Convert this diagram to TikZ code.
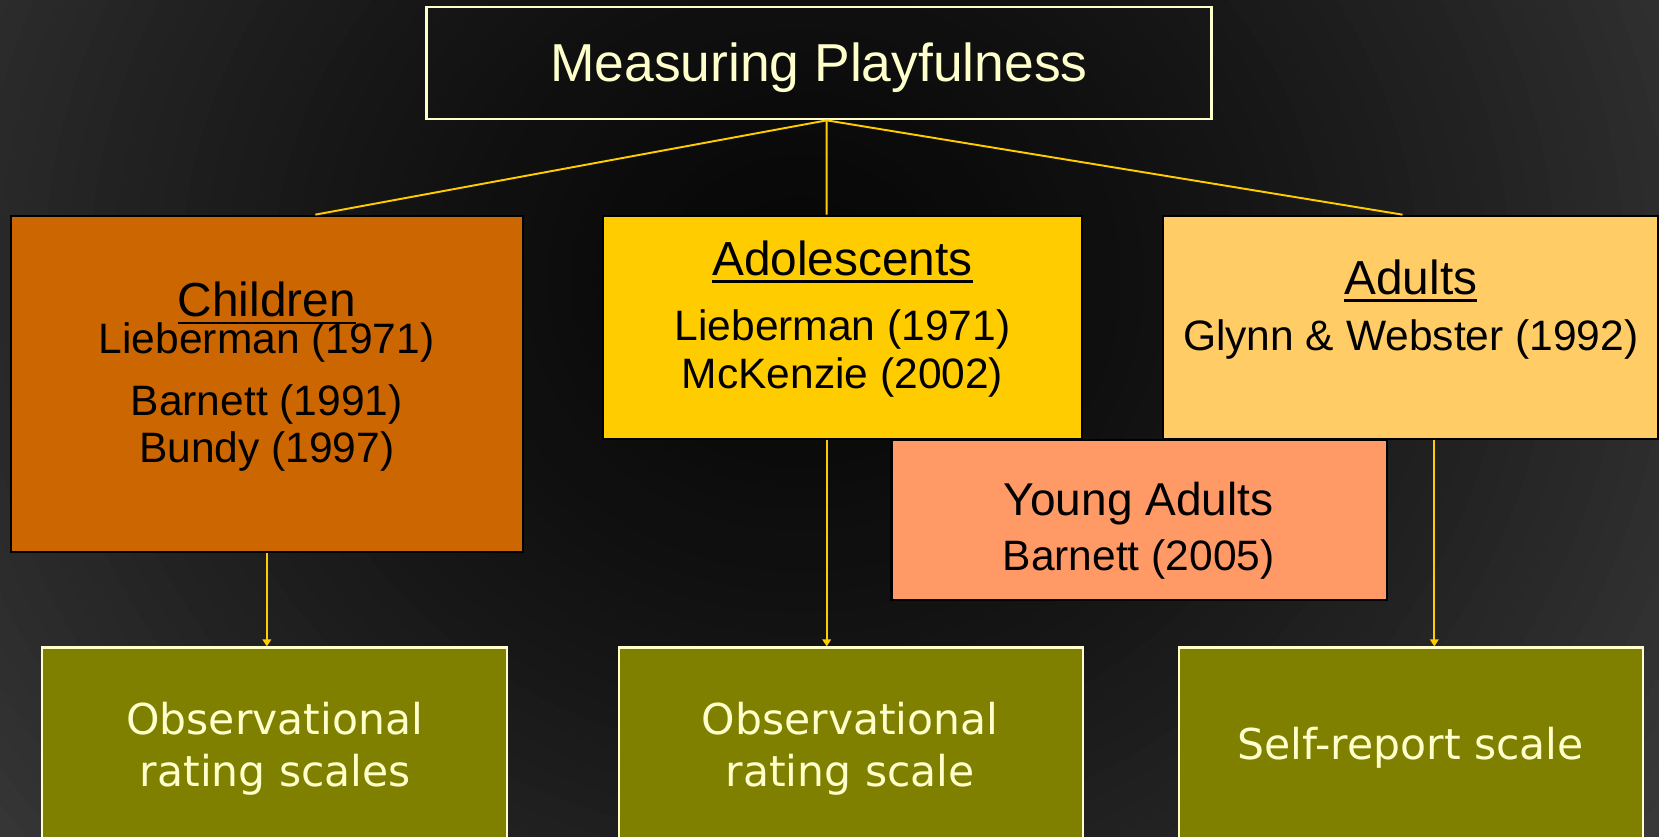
\documentclass[tikz,border=0pt]{standalone}
\usepackage{fontspec}
\setmainfont{Liberation Sans}
\newfontfamily\scalefamily{DejaVu Sans}
\usetikzlibrary{arrows.meta}

\definecolor{kidorange}{HTML}{CC6600}
\definecolor{teengold}{HTML}{FFCC00}
\definecolor{adultsand}{HTML}{FFCC66}
\definecolor{youngsalmon}{HTML}{FF9966}
\definecolor{scaleolive}{HTML}{808000}
\definecolor{cream}{HTML}{FFFFCC}
\definecolor{wire}{HTML}{FFCC00}
\definecolor{bgcore}{HTML}{070707}
\definecolor{bgedge}{HTML}{3C3C3C}

% underlined heading with a heavier rule than \underline
\newcommand{\uhead}[1]{\setbox0\hbox{#1}\rlap{\rule[-2.2pt]{\wd0}{0.7pt}}\box0}

\begin{document}
\begin{tikzpicture}[
    agebox/.style={draw=black,line width=0.6pt,rectangle,inner sep=0pt},
    scalebox/.style={draw=cream,line width=0.6pt,rectangle,fill=scaleolive,inner sep=0pt},
    head/.style={anchor=base,text=black,font=\fontsize{13.6}{16}\selectfont},
    ref/.style={anchor=base,text=black,font=\fontsize{12.1}{14}\selectfont},
    note/.style={anchor=base,text=cream,font=\scalefamily\fontsize{12.1}{14}\selectfont},
    wireline/.style={draw=wire,line width=0.55pt},
    down/.style={wireline,-{Triangle[length=2pt,width=2.4pt]}}
  ]
  \useasboundingbox (0,0) rectangle (16.59,-8.37);
  \clip (0,0) rectangle (16.59,-8.37);
  % backdrop: dark in the middle, lighter towards the corners
  \fill[bgedge] (0,0) rectangle (16.59,-8.37);
  \foreach \i in {0,...,48}{
    \pgfmathsetmacro\s{1-\i/48}
    \pgfmathsetmacro\p{100*(1-\s^1.5)}
    \fill[bgcore!\p!bgedge] (8.0,-2.8) ellipse ({11*\s} and {10*\s});
  }

  % boxes
  \node[draw=cream,line width=0.6pt,inner sep=0pt,minimum width=7.85cm,minimum height=1.12cm] (top) at (8.19,-0.633) {};
  \node[agebox,fill=kidorange,minimum width=5.123cm,minimum height=3.36cm] (kids) at (2.6685,-3.837) {};
  \node[agebox,fill=teengold,minimum width=4.79cm,minimum height=2.236cm] (teen) at (8.425,-3.275) {};
  \node[agebox,fill=adultsand,minimum width=4.95cm,minimum height=2.236cm] (adult) at (14.105,-3.275) {};
  \node[agebox,fill=youngsalmon,minimum width=4.951cm,minimum height=1.60cm] (young) at (11.39,-5.20) {};
  \node[scalebox,minimum width=4.65cm,minimum height=3.0cm] (obsA) at (2.745,-7.975) {};
  \node[scalebox,minimum width=4.644cm,minimum height=3.0cm] (obsB) at (8.512,-7.975) {};
  \node[scalebox,minimum width=4.64cm,minimum height=3.0cm] (self) at (14.107,-7.975) {};

  % texts
  \node[anchor=base,text=cream,font=\fontsize{15.2}{18}\selectfont] (title) at (8.19,-0.817) {Measuring Playfulness};

  \node[head] (kids-h) at (2.667,-3.167) {\uhead{Children}};
  \node[ref] (kids-a) at (2.667,-3.533) {Lieberman (1971)};
  \node[ref] (kids-b) at (2.667,-4.157) {Barnett (1991)};
  \node[ref] (kids-c) at (2.667,-4.627) {Bundy (1997)};

  \node[head] (teen-h) at (8.425,-2.75) {\uhead{Adolescents}};
  \node[ref] (teen-a) at (8.425,-3.40) {Lieberman (1971)};
  \node[ref] (teen-b) at (8.425,-3.883) {McKenzie (2002)};

  \node[head] (adult-h) at (14.108,-2.94) {\uhead{Adults}};
  \node[ref] (adult-a) at (14.108,-3.50) {Glynn \& Webster (1992)};

  \node[head,font=\fontsize{13.1}{15}\selectfont] (young-h) at (11.386,-5.15) {Young Adults};
  \node[ref] (young-a) at (11.386,-5.70) {Barnett (2005)};

  \node[note] (obsA-a) at (2.747,-7.343) {Observational};
  \node[note] (obsA-b) at (2.755,-7.86) {rating scales};
  \node[note] (obsB-a) at (8.502,-7.343) {Observational};
  \node[note] (obsB-b) at (8.502,-7.86) {rating scale};
  \node[note] (self-a) at (14.108,-7.593) {Self-report scale};

  % connectors
  \begin{scope}[wireline]
    \draw ([xshift=0.077cm]top.south) -- ([xshift=0.485cm]kids.north);
    \draw ([xshift=0.077cm]top.south) -- ([xshift=-0.158cm]teen.north);
    \draw ([xshift=0.077cm]top.south) -- ([xshift=-0.08cm]adult.north);
  \end{scope}
  \draw[down] (kids.south) -- (kids.south |- obsA.north);
  \draw[down] ([xshift=-0.158cm]teen.south) -- ([xshift=-0.158cm]teen.south |- obsB.north);
  \draw[down] ([xshift=0.238cm]adult.south) -- ([xshift=0.238cm]adult.south |- self.north);
\end{tikzpicture}
\end{document}
